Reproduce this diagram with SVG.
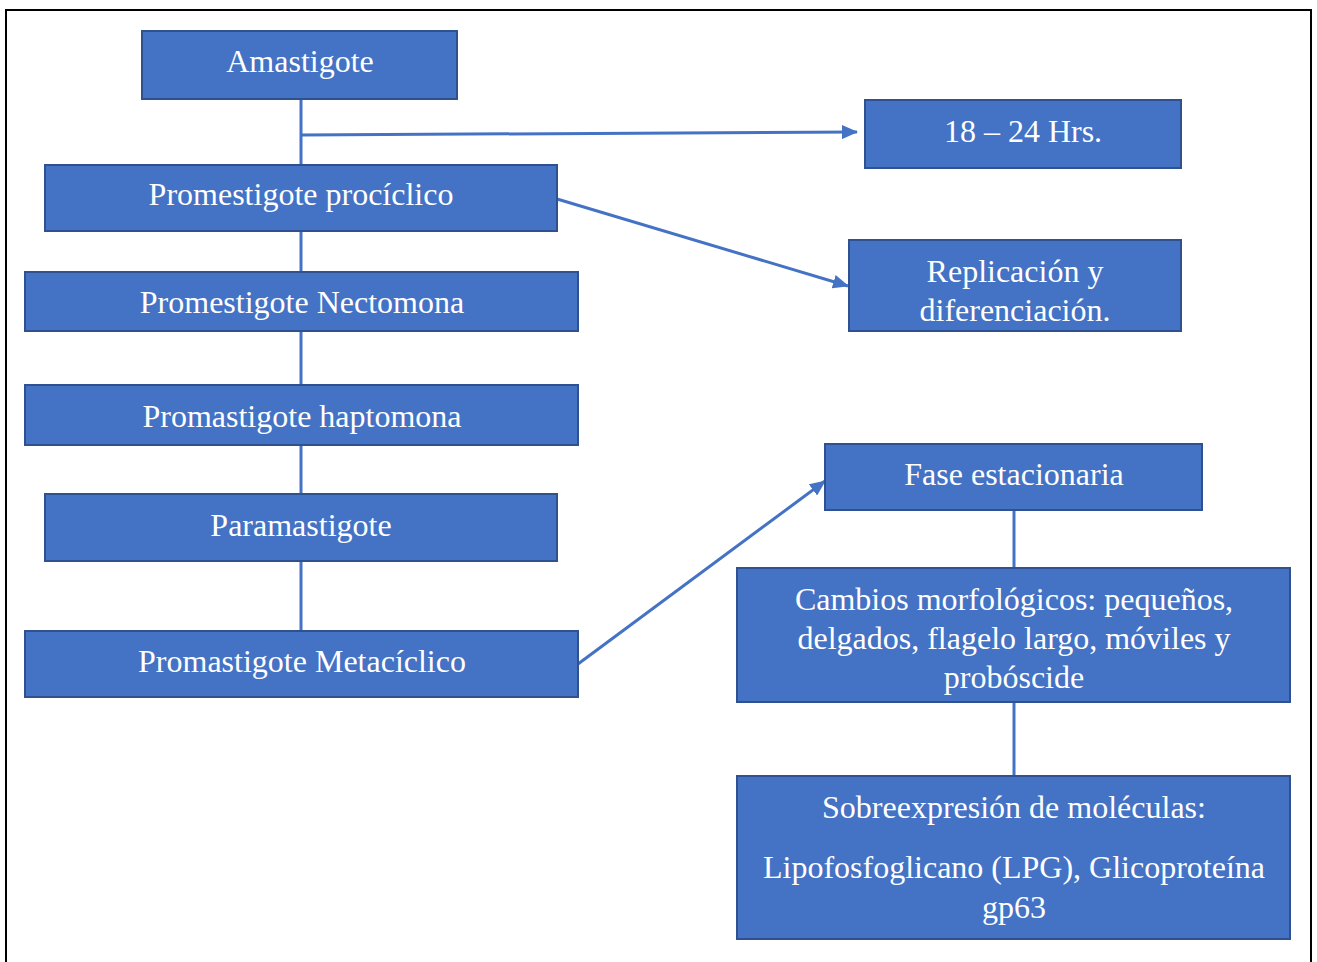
<svg xmlns="http://www.w3.org/2000/svg" width="1317" height="962" viewBox="0 0 1317 962">
<style>
.box{fill:#4472C4;stroke:#2F528F;stroke-width:2}
.t{font-family:"Liberation Serif","Times New Roman",serif;font-size:32px;fill:#ffffff;text-anchor:middle}
.c{stroke:#4472C4;stroke-width:3;fill:none}
</style>
<defs>
<marker id="ah2" markerWidth="16" markerHeight="14" refX="15" refY="7" orient="auto" markerUnits="userSpaceOnUse" viewBox="0 0 16 14">
<path d="M0,0 L16,7 L0,14 z" fill="#4472C4"/>
</marker>
</defs>
<rect x="0" y="0" width="1317" height="962" fill="#ffffff"/>
<rect x="6" y="10" width="1305" height="970" fill="none" stroke="#000000" stroke-width="2"/>
<g id="connectors">
<line class="c" x1="301" y1="99" x2="301" y2="631"/>
<line class="c" x1="301" y1="135" x2="857" y2="132" marker-end="url(#ah2)"/>
<line class="c" x1="557" y1="199" x2="848" y2="286" marker-end="url(#ah2)"/>
<line class="c" x1="578" y1="664" x2="825" y2="481" marker-end="url(#ah2)"/>
<line class="c" x1="1014" y1="510" x2="1014" y2="568"/>
<line class="c" x1="1014" y1="702" x2="1014" y2="776"/>
</g>
<g id="amastigote"><rect class="box" x="142" y="31" width="315" height="68"/><text class="t" x="300" y="72">Amastigote</text></g>
<g id="hrs"><rect class="box" x="865" y="100" width="316" height="68"/><text class="t" x="1023" y="142">18 – 24 Hrs.</text></g>
<g id="prociclico"><rect class="box" x="45" y="165" width="512" height="66"/><text class="t" x="301" y="205">Promestigote procíclico</text></g>
<g id="replicacion"><rect class="box" x="849" y="240" width="332" height="91"/><text class="t" x="1015" y="282">Replicación y</text><text class="t" x="1015" y="321">diferenciación.</text></g>
<g id="nectomona"><rect class="box" x="25" y="272" width="553" height="59"/><text class="t" x="302" y="313">Promestigote Nectomona</text></g>
<g id="haptomona"><rect class="box" x="25" y="385" width="553" height="60"/><text class="t" x="302" y="427">Promastigote haptomona</text></g>
<g id="fase"><rect class="box" x="825" y="444" width="377" height="66"/><text class="t" x="1014" y="485">Fase estacionaria</text></g>
<g id="paramastigote"><rect class="box" x="45" y="494" width="512" height="67"/><text class="t" x="301" y="536">Paramastigote</text></g>
<g id="cambios"><rect class="box" x="737" y="568" width="553" height="134"/><text class="t" x="1014" y="610">Cambios morfológicos: pequeños,</text><text class="t" x="1014" y="649">delgados, flagelo largo, móviles y</text><text class="t" x="1014" y="688">probóscide</text></g>
<g id="metaciclico"><rect class="box" x="25" y="631" width="553" height="66"/><text class="t" x="302" y="672">Promastigote Metacíclico</text></g>
<g id="sobreexpresion"><rect class="box" x="737" y="776" width="553" height="163"/><text class="t" x="1014" y="818">Sobreexpresión de moléculas:</text><text class="t" x="1014" y="878">Lipofosfoglicano (LPG), Glicoproteína</text><text class="t" x="1014" y="918">gp63</text></g>
</svg>
